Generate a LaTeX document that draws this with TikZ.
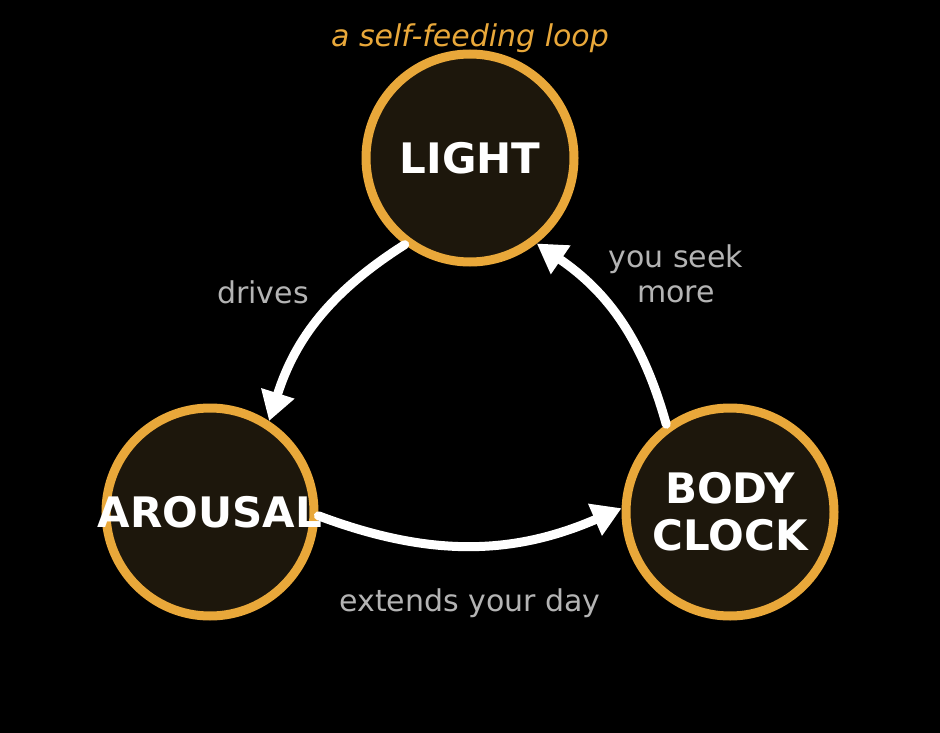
\documentclass[tikz,border=0pt]{standalone}
\usepackage{fontspec}
\setmainfont{DejaVu Sans}
\usepackage{xcolor}
\usepackage{tikz}
\usetikzlibrary{arrows.meta,positioning}
\definecolor{loopgold}{HTML}{E9A83A}
\definecolor{discfill}{HTML}{1D170C}
\definecolor{softgrey}{HTML}{B4B4B4}

\begin{document}
\begin{tikzpicture}[x=1pt, y=-1pt,
  disc/.style={circle, draw=loopgold, line width=9pt, fill=discfill, minimum size=208pt, inner sep=0pt},
  word/.style={text=white, font=\fontsize{42}{47}\selectfont\bfseries, align=center},
  flow/.style={draw=white, line width=9pt, line cap=round, -{Triangle[length=29pt, width=33pt]}},
  note/.style={text=softgrey, font=\fontsize{30}{35}\selectfont, align=center}]
  \fill[black] (0,0) rectangle (940,733);
  \useasboundingbox (0,0) rectangle (940,733);
  \node[text=loopgold, font=\fontsize{30}{35}\selectfont\itshape] (title) at (470,38) {a self-feeding loop};
  \node[disc] (light) at (470,158) {};
  \node[disc] (arousal) at (210,512) {};
  \node[disc] (clock) at (730,512) {};
  \node[word] (lighttxt) at (light) {LIGHT};
  \node[word] (arousaltxt) at (arousal) {AROUSAL};
  \node[word] (clocktxt) at (clock) {BODY\\CLOCK};
  \draw[flow] (light.233) to[bend right=20] (arousal.57);
  \draw[flow] (arousal.-2) to[bend right=22] (clock.178);
  \draw[flow] (clock.126) to[bend right=20] (light.308);
  \node[note] (drives) at (263,292) {drives};
  \node[note] (seek) at (676,274) {you seek\\more};
  \node[note] (extends) at (470,603) {extends your day};
\end{tikzpicture}
\end{document}
